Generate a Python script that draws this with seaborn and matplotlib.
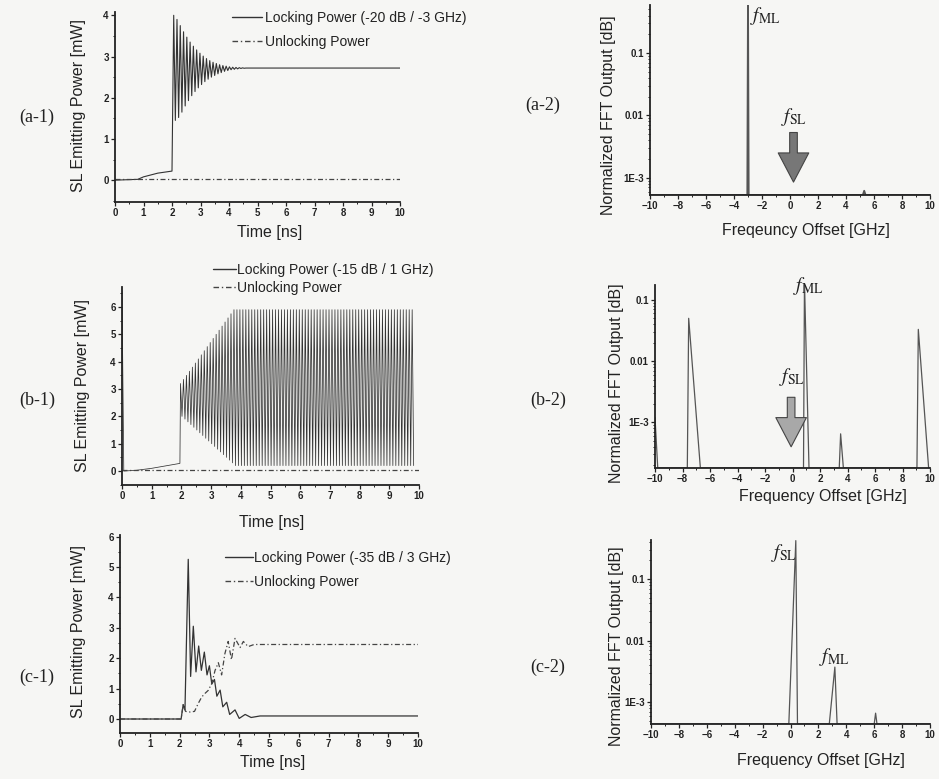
import numpy as np
import matplotlib
matplotlib.use("Agg")
import matplotlib.pyplot as plt
import seaborn as sns
from matplotlib.ticker import MultipleLocator, FixedLocator, FixedFormatter, LogLocator, NullFormatter

W, H = 939, 779
BG = "#f6f6f4"

# ---------------- data ----------------
# (a-1) -20 dB / -3 GHz
a1_pre_t = [0.0, 0.8, 1.0, 1.5, 2.0]
a1_pre_p = [0.0, 0.02, 0.08, 0.17, 0.22]
a1_osc_t0, a1_osc_period = 2.06, 0.115
a1_peaks = [4.0, 3.9, 3.75, 3.6, 3.47, 3.35, 3.25, 3.16, 3.08, 3.01, 2.95, 2.9,
            2.86, 2.83, 2.8, 2.78, 2.765, 2.75, 2.74, 2.735, 2.73, 2.725, 2.72, 2.72]
a1_troughs = [1.45, 1.52, 1.65, 1.8, 1.93, 2.05, 2.15, 2.24, 2.32, 2.39, 2.45, 2.5,
              2.54, 2.58, 2.61, 2.64, 2.66, 2.68, 2.69, 2.70, 2.71, 2.715, 2.72, 2.72]
a1_steady = 2.72
a1_unlock_t = [0.0, 10.0]
a1_unlock_p = [0.02, 0.02]

# (b-1) -15 dB / 1 GHz
b1_pre_t = [0.0, 0.06, 0.5, 1.0, 1.95]
b1_pre_p = [6.6, 0.0, 0.03, 0.1, 0.28]
b1_osc_t0, b1_osc_period = 1.97, 0.1
b1_peaks = [3.2, 3.35, 3.5, 3.65, 3.8, 3.95, 4.1, 4.25, 4.4, 4.55, 4.7, 4.85, 5.0,
            5.15, 5.3, 5.45, 5.6, 5.75] + [5.9] * 61
b1_troughs = [2.0, 1.9, 1.8, 1.7, 1.6, 1.5, 1.4, 1.3, 1.2, 1.1, 1.0, 0.9, 0.8,
              0.7, 0.6, 0.5, 0.4, 0.3] + [0.2] * 61
b1_unlock_t = [0.0, 10.0]
b1_unlock_p = [0.05, 0.05]

# (c-1) -35 dB / 3 GHz
c1_lock_t = [0.0, 2.05, 2.12, 2.18, 2.29, 2.37, 2.46, 2.55, 2.64, 2.73, 2.83, 2.92, 3.0,
             3.08, 3.17, 3.25, 3.36, 3.45, 3.58, 3.68, 3.86, 4.0, 4.2, 4.4, 4.7, 10.0]
c1_lock_p = [0.0, 0.0, 0.47, 0.3, 5.25, 1.4, 3.05, 1.55, 2.4, 1.6, 2.2, 1.45, 1.75,
             1.15, 1.3, 0.75, 0.95, 0.4, 0.55, 0.15, 0.3, 0.02, 0.15, 0.05, 0.1, 0.1]
c1_unlock_t = [0.0, 2.05, 2.12, 2.2, 2.35, 2.5, 2.63, 2.74, 2.85, 2.96, 3.08, 3.19, 3.3,
               3.41, 3.52, 3.63, 3.74, 3.86, 4.03, 4.14, 4.3, 4.5, 10.0]
c1_unlock_p = [0.0, 0.0, 0.47, 0.25, 0.23, 0.25, 0.52, 0.72, 0.84, 0.94, 1.17, 1.6, 1.85,
               1.45, 2.15, 2.55, 1.95, 2.65, 2.35, 2.55, 2.38, 2.45, 2.45]

# FFT spectra
a2_freq = [-10.0, -3.05, -3.0, -2.95, 5.2, 5.3, 5.4, 10.0]
a2_fft = [5.3e-4, 5.3e-4, 1.0, 5.3e-4, 5.3e-4, 6.2e-4, 5.3e-4, 5.3e-4]
b2_freq = [-10.0, -9.8, -7.65, -7.55, -6.7, 0.8, 0.87, 1.2, 3.4, 3.5, 3.7, 9.05, 9.15, 9.9, 10.0]
b2_fft = [1.2e-3, 1.8e-4, 1.8e-4, 0.05, 1.8e-4, 1.8e-4, 0.2, 1.8e-4, 1.8e-4, 6.5e-4,
          1.8e-4, 1.8e-4, 0.033, 1.8e-4, 1.8e-4]
c2_freq = [-10.0, -0.12, 0.38, 0.5, 2.78, 3.18, 3.34, 6.0, 6.1, 6.2, 10.0]
c2_fft = [4.4e-4, 4.4e-4, 0.42, 4.4e-4, 4.4e-4, 3.7e-3, 4.4e-4, 4.4e-4, 6.6e-4, 4.4e-4, 4.4e-4]

time_ticks = list(range(0, 11))
freq_ticks = [-10, -8, -6, -4, -2, 0, 2, 4, 6, 8, 10]
log_ticks = [1e-3, 0.01, 0.1]
log_labels = ["1E-3", "0.01", "0.1"]


def osc_trace(pre_t, pre_p, t0, period, peaks, troughs):
    t, p = list(pre_t), list(pre_p)
    for k, (hi, lo) in enumerate(zip(peaks, troughs)):
        t += [t0 + k * period, t0 + (k + 0.5) * period]
        p += [hi, lo]
    return t, p


a1_t, a1_p = osc_trace(a1_pre_t, a1_pre_p, a1_osc_t0, a1_osc_period, a1_peaks, a1_troughs)
a1_t += [10.0]
a1_p += [a1_steady]
b1_t, b1_p = osc_trace(b1_pre_t, b1_pre_p, b1_osc_t0, b1_osc_period, b1_peaks, b1_troughs)

# ---------------- figure ----------------
sns.set_style("ticks")
plt.rcParams["font.family"] = ["Liberation Sans", "DejaVu Sans"]
plt.rcParams["mathtext.fontset"] = "stix"

fig = plt.figure(figsize=(W / 100, H / 100), dpi=100, facecolor=BG)


def px_axes(l, t, r, b):
    ax = fig.add_axes([l / W, 1 - b / H, (r - l) / W, (b - t) / H])
    ax.set_facecolor("none")
    return ax


def px_text(x, y, s, **kw):
    fig.text(x / W, 1 - y / H, s, ha="center", va="center", **kw)


def style_axes(ax):
    sns.despine(ax=ax)
    for s in ["left", "bottom"]:
        ax.spines[s].set_linewidth(1.3)
        ax.spines[s].set_color("#222")
    ax.tick_params(which="major", length=3, width=0.9, pad=1.5, labelsize=7, colors="#222")
    ax.tick_params(which="minor", length=1.6, width=0.7, colors="#222")
    for lab in ax.get_xticklabels() + ax.get_yticklabels():
        lab.set_fontweight("bold")
    ax.set_xlabel("")
    ax.set_ylabel("")


dash = (0, (4, 2, 1, 2))
line_col = "#333333"

left_panels = [
    dict(box=(115, 12, 400, 202), ylim=(-0.53, 4.08), yt=[0, 1, 2, 3, 4],
         lock=(a1_t, a1_p), unlock=(a1_unlock_t, a1_unlock_p), lw=0.8,
         label="Locking Power (-20 dB / -3 GHz)", leg=(0.41, 1.005), ls=0.73, hl=2.2, hp=0.2,
         tag=(37, 117, "(a-1)"), yl=(78, 105), xl=(270, 232)),
    dict(box=(122, 287, 419, 485), ylim=(-0.51, 6.73), yt=[0, 1, 2, 3, 4, 5, 6],
         lock=(b1_t, b1_p), unlock=(b1_unlock_t, b1_unlock_p), lw=0.55,
         label="Locking Power (-15 dB / 1 GHz)", leg=(0.306, 1.121), ls=0.3, hl=1.7, hp=0.05,
         tag=(37, 400, "(b-1)"), yl=(82, 386), xl=(272, 522)),
    dict(box=(120, 535, 418, 733), ylim=(-0.46, 6.05), yt=[0, 1, 2, 3, 4, 5, 6],
         lock=(c1_lock_t, c1_lock_p), unlock=(c1_unlock_t, c1_unlock_p), lw=0.9,
         label="Locking Power (-35 dB / 3 GHz)", leg=(0.352, 0.919), ls=0.73, hl=2.0, hp=0.1,
         tag=(37, 677, "(c-1)"), yl=(78, 631), xl=(273, 763)),
]

for cfg in left_panels:
    ax = px_axes(*cfg["box"])
    sns.lineplot(x=cfg["lock"][0], y=cfg["lock"][1], ax=ax, sort=False, estimator=None,
                 color=line_col, lw=cfg["lw"], label=cfg["label"])
    sns.lineplot(x=cfg["unlock"][0], y=cfg["unlock"][1], ax=ax, sort=False, estimator=None,
                 color="#444444", lw=0.9, label="Unlocking Power")
    ax.lines[1].set_linestyle(dash)
    ax.set_xlim(0, 10)
    ax.set_ylim(*cfg["ylim"])
    ax.xaxis.set_major_locator(FixedLocator(time_ticks))
    ax.xaxis.set_minor_locator(MultipleLocator(0.5))
    ax.yaxis.set_major_locator(FixedLocator(cfg["yt"]))
    ax.yaxis.set_minor_locator(MultipleLocator(0.5))
    style_axes(ax)
    leg = ax.legend(loc="upper left", bbox_to_anchor=cfg["leg"], frameon=False, fontsize=10,
                    handlelength=cfg["hl"], handletextpad=cfg["hp"], labelspacing=cfg["ls"],
                    borderpad=0, borderaxespad=0)
    for h in leg.get_lines():
        h.set_linewidth(1.0)
    for tx in leg.get_texts():
        tx.set_color("#222")
    x, y, s = cfg["tag"]
    px_text(x, y, s, fontsize=13, family=["Liberation Serif", "DejaVu Serif"], color="#222")
    px_text(*cfg["yl"], "SL Emitting Power [mW]", fontsize=11.5, rotation=90, color="#222")
    px_text(*cfg["xl"], "Time [ns]", fontsize=11.5, color="#222")

right_panels = [
    dict(box=(650, 5, 930, 195), ylim=(5.3e-4, 0.59), data=(a2_freq, a2_fft), lw=1.3,
         tag=(543, 105, "(a-2)"), yl=(608, 115), xl=(806, 230), xlab="Freqeuncy Offset [GHz]"),
    dict(box=(655, 285, 930, 468), ylim=(1.8e-4, 0.175), data=(b2_freq, b2_fft), lw=0.9,
         tag=(548, 400, "(b-2)"), yl=(617, 383), xl=(823, 496), xlab="Frequency Offset [GHz]"),
    dict(box=(651, 540, 930, 724), ylim=(4.4e-4, 0.43), data=(c2_freq, c2_fft), lw=0.9,
         tag=(548, 667, "(c-2)"), yl=(616, 646), xl=(821, 760), xlab="Frequency Offset [GHz]"),
]

raxes = []
for cfg in right_panels:
    ax = px_axes(*cfg["box"])
    sns.lineplot(x=cfg["data"][0], y=cfg["data"][1], ax=ax, sort=False, estimator=None,
                 color="#555555", lw=cfg["lw"])
    ax.set_yscale("log")
    ax.set_xlim(-10, 10)
    ax.set_ylim(*cfg["ylim"])
    ax.xaxis.set_major_locator(FixedLocator(freq_ticks))
    ax.xaxis.set_minor_locator(MultipleLocator(1))
    ax.yaxis.set_major_locator(FixedLocator(log_ticks))
    ax.yaxis.set_major_formatter(FixedFormatter(log_labels))
    ax.yaxis.set_minor_locator(LogLocator(base=10, subs=np.arange(2, 10)))
    ax.yaxis.set_minor_formatter(NullFormatter())
    style_axes(ax)
    x, y, s = cfg["tag"]
    px_text(x, y, s, fontsize=13, family=["Liberation Serif", "DejaVu Serif"], color="#222")
    px_text(*cfg["yl"], "Normalized FFT Output [dB]", fontsize=11.5, rotation=90, color="#222")
    px_text(*cfg["xl"], cfg["xlab"], fontsize=11.5, color="#222")
    raxes.append(ax)

fsl = r"$f_{\mathrm{SL}}$"
fml = r"$f_{\mathrm{ML}}$"
fkw = dict(fontsize=14, ha="center", va="center", color="#222", annotation_clip=False)


def arrow(ax, x, y_tail, y_tip, fc):
    ax.annotate("", xy=(x, y_tip), xytext=(x, y_tail),
                arrowprops=dict(arrowstyle="simple,head_width=2.2,head_length=2.1,tail_width=0.55",
                                mutation_scale=10, fc=fc, ec="#444", lw=0.8))


ax_a2, ax_b2, ax_c2 = raxes
ax_a2.annotate(fml, xy=(-1.8, 0.4), **fkw)
ax_a2.annotate(fsl, xy=(0.3, 9.5e-3), **fkw)
arrow(ax_a2, 0.25, 5.9e-3, 7.7e-4, "#777777")
ax_b2.annotate(fml, xy=(1.13, 0.17), **fkw)
ax_b2.annotate(fsl, xy=(-0.04, 5.6e-3), **fkw)
arrow(ax_b2, -0.1, 2.85e-3, 3.6e-4, "#a8a8a8")
ax_c2.annotate(fsl, xy=(-0.49, 0.26), **fkw)
ax_c2.annotate(fml, xy=(3.17, 5.4e-3), **fkw)

fig.savefig("out.png", dpi=100, facecolor=BG)
